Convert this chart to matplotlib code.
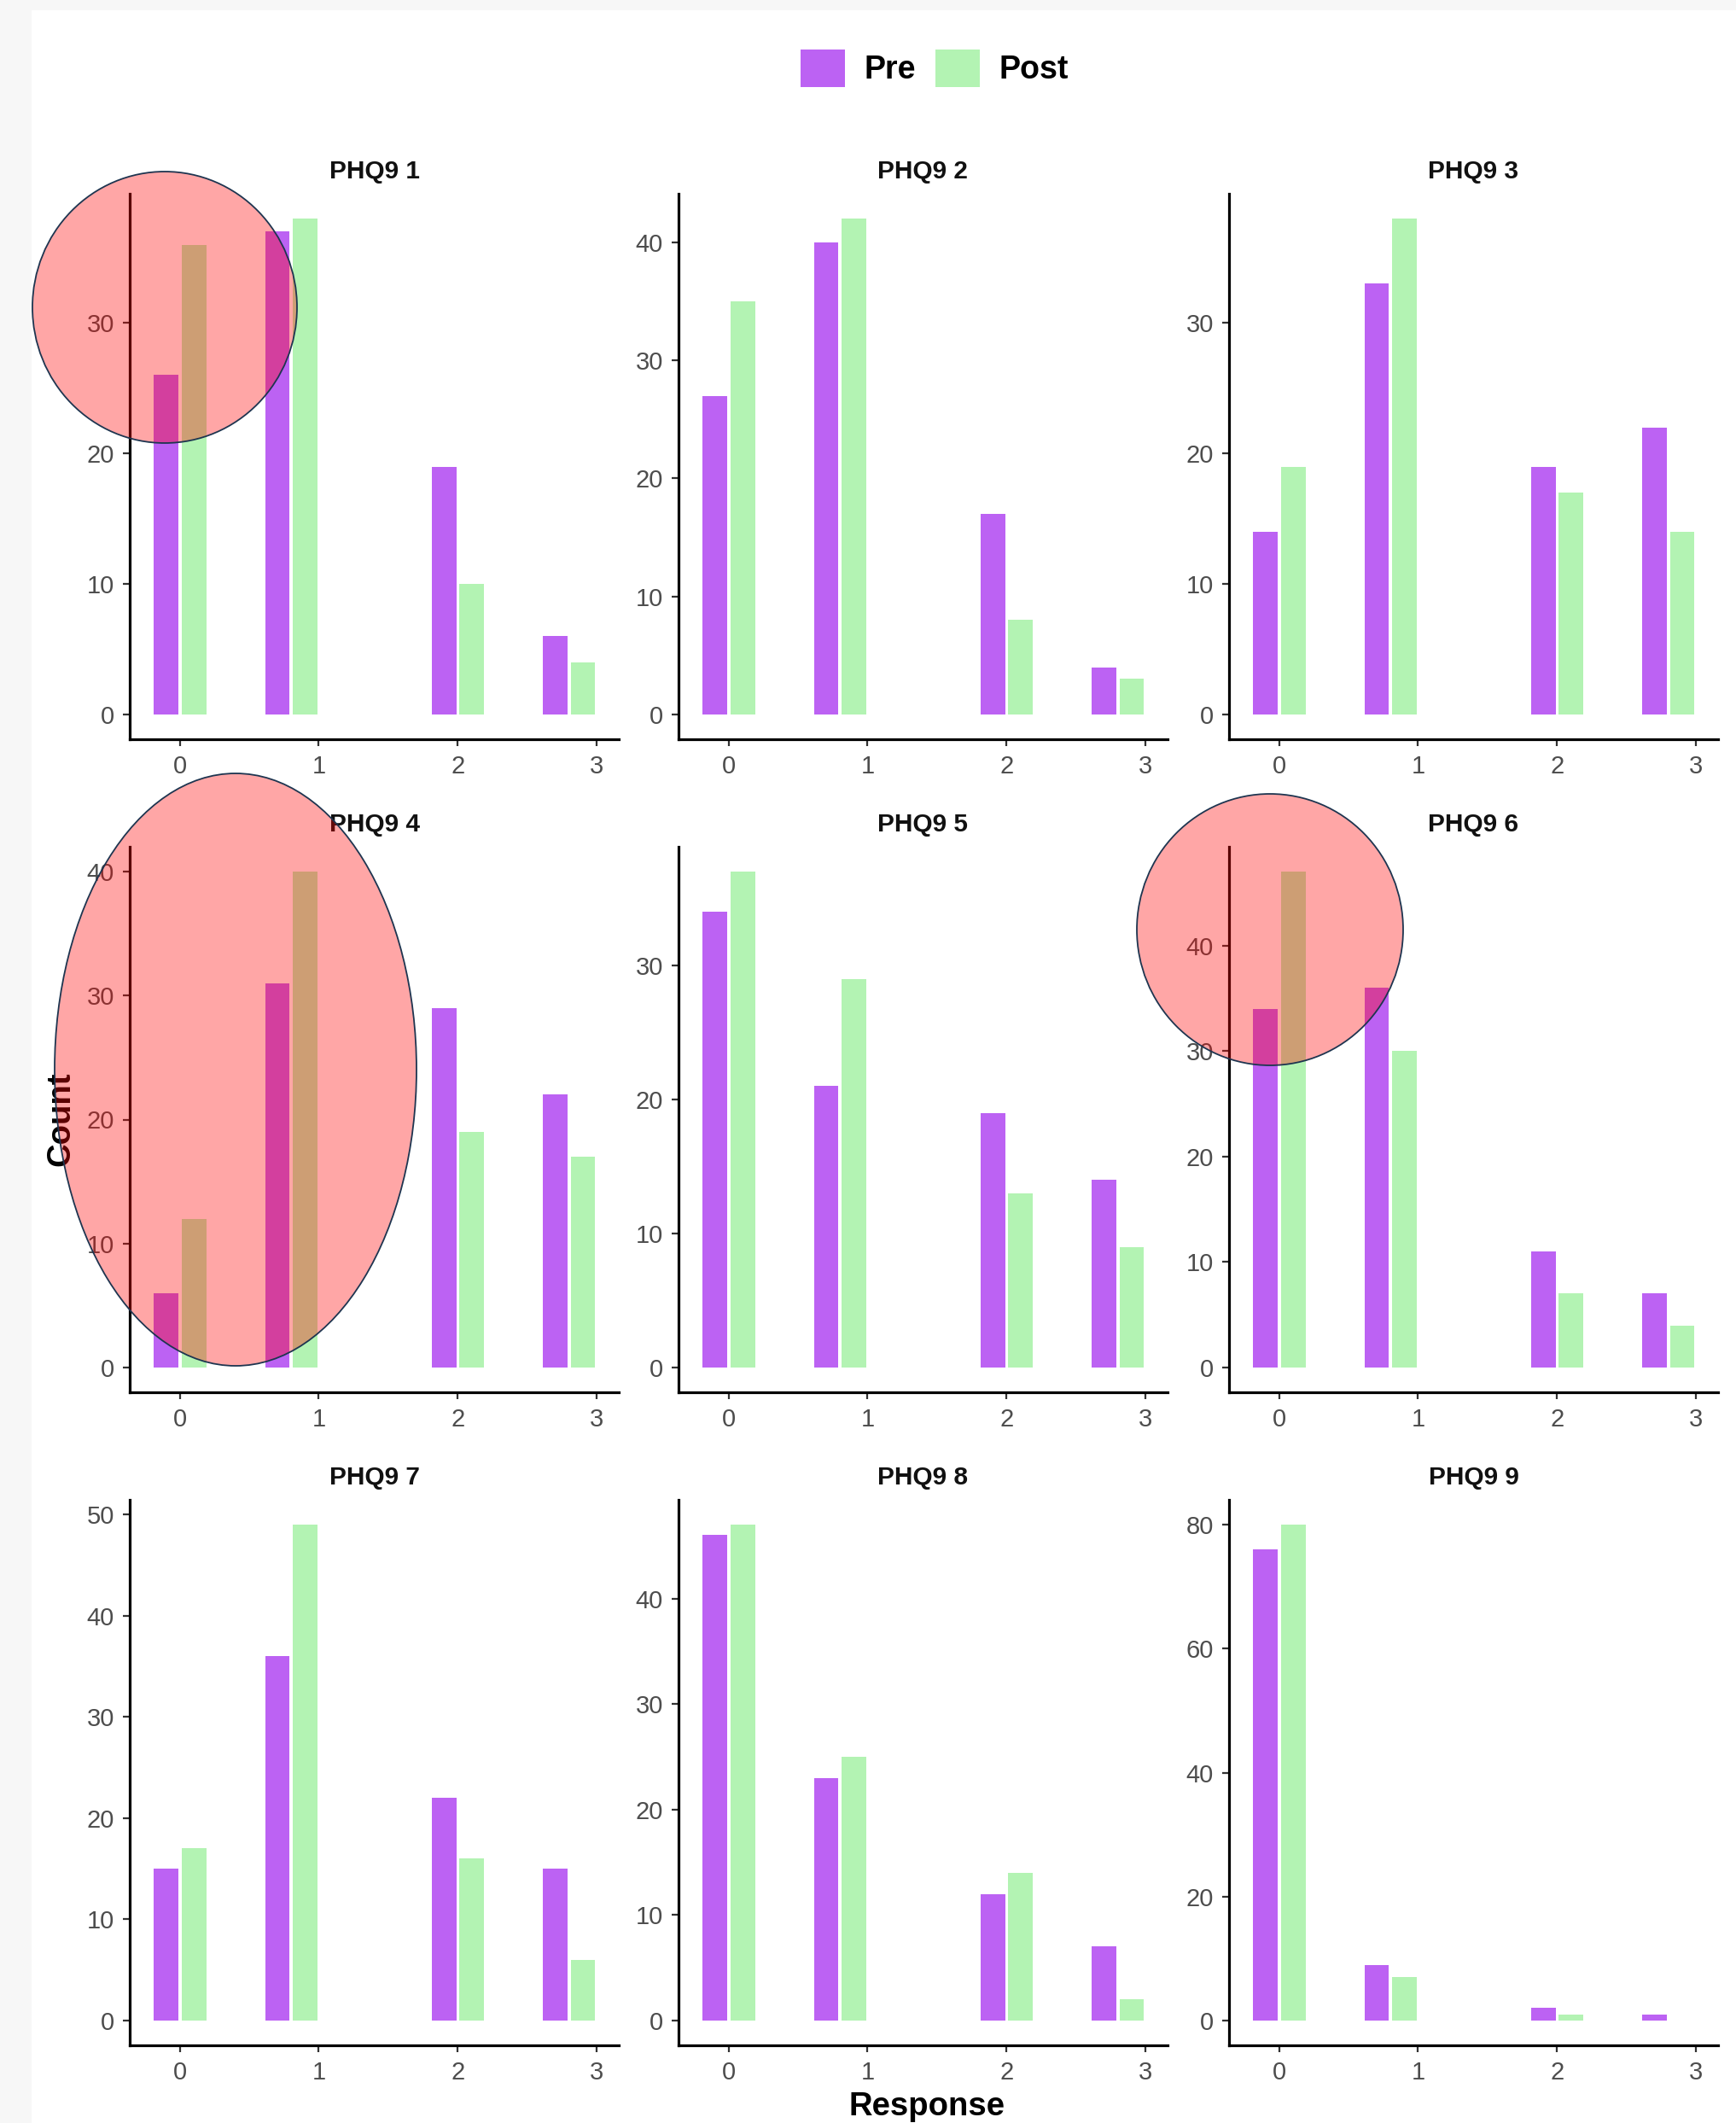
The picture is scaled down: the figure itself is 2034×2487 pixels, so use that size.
import matplotlib.pyplot as plt
import numpy as np
from matplotlib.patches import Ellipse, Patch
from matplotlib.ticker import MultipleLocator

plt.rcParams['font.family'] = ['Liberation Sans', 'DejaVu Sans']

# Data
items = ['PHQ9 1', 'PHQ9 2', 'PHQ9 3', 'PHQ9 4', 'PHQ9 5',
         'PHQ9 6', 'PHQ9 7', 'PHQ9 8', 'PHQ9 9']
responses = ['0', '1', '2', '3']
response_x = [0.0, 0.8, 2.0, 2.8]   # bar groups 1 and 3 sit left of their tick
pre = [[26, 37, 19, 6], [27, 40, 17, 4], [14, 33, 19, 22],
       [6, 31, 29, 22], [34, 21, 19, 14], [34, 36, 11, 7],
       [15, 36, 22, 15], [46, 23, 12, 7], [76, 9, 2, 1]]
post = [[36, 38, 10, 4], [35, 42, 8, 3], [19, 38, 17, 14],
        [12, 40, 19, 17], [37, 29, 13, 9], [47, 30, 7, 4],
        [17, 49, 16, 6], [47, 25, 14, 2], [80, 7, 1, 0]]
y_step = [10, 10, 10, 10, 10, 10, 10, 10, 20]

pre_color = '#BC62F3'
post_color = '#B3F3B3'

W, H = 2034, 2487
fig = plt.figure(figsize=(W / 100, H / 100), dpi=100)
fig.patch.set_facecolor('#F7F7F7')
# white canvas inset (light grey strip left and top)
fig.add_artist(plt.Rectangle((37 / W, 0), 1, 1 - 12 / H, transform=fig.transFigure,
                             facecolor='white', edgecolor='none', zorder=0))

col_left = [152, 795, 1440]
row_top = [227, 992, 1757]
ax_w, ax_h = 573, 639

x = np.array(response_x)
bw = 0.176
for i, name in enumerate(items):
    r, c = divmod(i, 3)
    ax = fig.add_axes([col_left[c] / W, 1 - (row_top[r] + ax_h) / H, ax_w / W, ax_h / H])
    ax.set_facecolor('none')
    ax.bar(x - 0.097, pre[i], width=bw, color=pre_color, linewidth=0)
    ax.bar(x + 0.102, post[i], width=bw, color=post_color, linewidth=0)
    top = max(max(pre[i]), max(post[i]))
    ax.set_ylim(-0.05 * top, 1.05 * top)
    ax.set_xlim(-0.36, 3.16)
    ax.set_xticks(range(len(responses)))
    ax.set_xticklabels(responses)
    ax.yaxis.set_major_locator(MultipleLocator(y_step[i]))
    for s in ['top', 'right']:
        ax.spines[s].set_visible(False)
    for s in ['left', 'bottom']:
        ax.spines[s].set_linewidth(2.3)
        ax.spines[s].set_color('black')
    ax.tick_params(length=6, width=1.6, color='#333333', labelcolor='#4D4D4D',
                   labelsize=21, pad=7)
    ax.set_title(name, fontsize=21.5, fontweight='bold', pad=13, color='#111111')

fig.text(71 / W, 1 - 1311 / H, 'Count', rotation=90, fontsize=27.5, fontweight='bold',
         ha='center', va='center')
fig.text(1086 / W, 1 - 2468 / H, 'Response', fontsize=27.5, fontweight='bold',
         ha='center', va='center')

handles = [Patch(facecolor=pre_color, edgecolor='none'),
           Patch(facecolor=post_color, edgecolor='none')]
fig.legend(handles, ['Pre', 'Post'], loc='center', bbox_to_anchor=(1095 / W, 1 - 80 / H),
           ncol=2, frameon=False, prop={'weight': 'bold', 'size': 27},
           handlelength=1.39, handleheight=1.41, handletextpad=0.6, columnspacing=0.6)

# red highlight ellipses drawn over the figure: (cx, cy, rx, ry) in pixels
highlights = [(193, 360, 155, 159), (276, 1253, 212, 347), (1488, 1089, 156, 159)]
for cx, cy, rx, ry in highlights:
    fig.add_artist(Ellipse((cx / W, 1 - cy / H), 2 * rx / W, 2 * ry / H,
                           transform=fig.transFigure, facecolor=(1, 0, 0, 0.35),
                           edgecolor='#1E3550', linewidth=1.3, zorder=10))

fig.savefig('out.png', dpi=100, facecolor=fig.get_facecolor())
